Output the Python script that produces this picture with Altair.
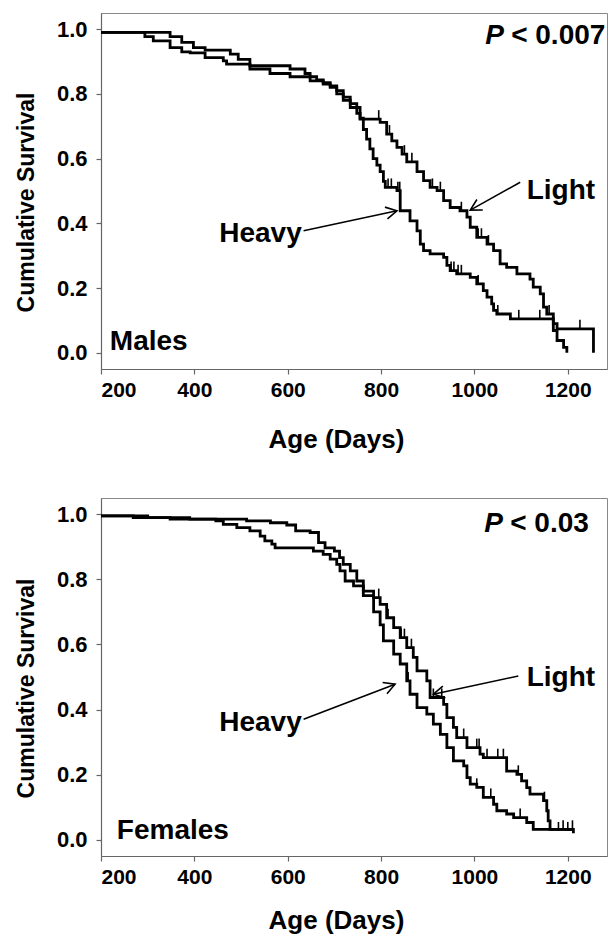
import math
import altair as alt
import pandas as pd

# ---------------- data ----------------
X_TICKS = [200, 400, 600, 800, 1000, 1200]
Y_TICKS = [0.0, 0.2, 0.4, 0.6, 0.8, 1.0]

# Males
male_light_x = [200, 348, 373, 398, 423, 477, 494, 519, 605, 637, 648, 662, 676, 691, 705, 719, 734, 748, 755, 798,
                812, 823, 834, 845, 855, 877, 891, 905, 920, 934, 948, 969, 984, 991, 1005, 1027, 1041, 1055, 1069,
                1091, 1119, 1126, 1141, 1148, 1155, 1169, 1177, 1255]
male_light_y = [.99, .977, .959, .943, .935, .923, .907, .887, .877, .863, .853, .843, .835, .825, .81, .79, .77, .74,
                .722, .712, .676, .655, .635, .614, .59, .56, .532, .511, .501, .47, .449, .439, .419, .388, .357,
                .336, .316, .275, .264, .244, .228, .203, .182, .141, .12, .09, .074, 0.0]
male_heavy_x = [200, 294, 312, 348, 373, 391, 423, 462, 469, 519, 562, 605, 648, 676, 691, 705, 719, 734, 755, 762,
                769, 776, 783, 791, 798, 805, 809, 834, 841, 862, 877, 884, 891, 905, 934, 941, 948, 962, 991, 1005,
                1019, 1027, 1037, 1041, 1048, 1077, 1169, 1177, 1191, 1198]
male_heavy_y = [.99, .977, .964, .943, .930, .927, .912, .902, .892, .877, .863, .853, .840, .830, .82, .80, .78, .758,
                .725, .69, .66, .63, .60, .58, .56, .53, .511, .501, .439, .408, .377, .336, .316, .306, .295, .27,
                .254, .244, .233, .213, .192, .172, .151, .131, .12, .105, .069, .038, .017, 0.0]
male_light_cens_x = [795, 818, 850, 866, 910, 927, 972, 1008, 1015, 1030, 1160, 1226]
male_light_cens_y = [.722, .676, .614, .59, .511, .501, .439, .357, .357, .336, .12, .074]
male_heavy_cens_x = [815, 822, 836, 840, 950, 956, 965, 972, 1008, 1050, 1095, 1140]
male_heavy_cens_y = [.511, .511, .501, .501, .254, .254, .244, .244, .213, .12, .105, .105]

# Females
female_light_x = [200, 300, 390, 512, 563, 598, 617, 648, 666, 680, 700, 711, 719, 734, 748, 762, 784, 798, 812, 827,
                  841, 855, 869, 877, 898, 905, 934, 941, 955, 962, 984, 1012, 1019, 1069, 1091, 1101, 1112, 1119,
                  1148, 1155, 1158, 1162, 1212]
female_light_y = [.995, .99, .985, .98, .974, .967, .949, .944, .913, .897, .887, .867, .846, .826, .795, .764, .744,
                  .723, .682, .652, .621, .59, .56, .519, .488, .437, .416, .375, .345, .314, .283, .263, .252, .211,
                  .201, .181, .160, .140, .120, .089, .058, .032, .02]
female_heavy_x = [200, 269, 348, 446, 462, 491, 519, 541, 551, 566, 573, 655, 676, 691, 705, 712, 723, 741, 762, 784,
                  798, 805, 827, 841, 855, 862, 877, 898, 912, 927, 941, 955, 977, 984, 991, 1005, 1019, 1041, 1048,
                  1069, 1084, 1112, 1126, 1205]
female_heavy_y = [.995, .99, .985, .98, .969, .959, .949, .933, .918, .908, .897, .887, .877, .862, .846, .826, .795,
                  .78, .75, .70, .66, .611, .570, .54, .488, .447, .406, .386, .355, .324, .283, .242, .227, .191,
                  .171, .161, .130, .109, .089, .079, .068, .053, .032, .027]
female_light_cens_x = [795, 815, 843, 850, 865, 912, 930, 977, 1005, 1010, 1027, 1050, 1062, 1094, 1150, 1190, 1210]
female_light_cens_y = [.744, .682, .621, .621, .59, .437, .437, .314, .283, .283, .252, .252, .252, .201, .120, .032, .032]
female_heavy_cens_x = [858, 1005, 1035, 1098, 1180, 1200]
female_heavy_cens_y = [.488, .161, .130, .068, .027, .027]

# Annotations (data coordinates)
male_labels = ["Heavy", "Light", "Males"]
male_label_x = [630, 1112, 219]
male_label_y = [0.367, 0.501, 0.033]
male_label_align = ["right", "left", "left"]
male_arrow_x = [634, 1098]
male_arrow_y = [0.377, 0.527]
male_arrow_tip_x = [834, 991]
male_arrow_tip_y = [0.439, 0.441]
male_p = ["P", "< 0.007"]
male_p_x = 1023
male_p_y = 0.979

female_labels = ["Heavy", "Light", "Females"]
female_label_x = [630, 1112, 234]
female_label_y = [0.36, 0.498, 0.028]
female_label_align = ["right", "left", "left"]
female_arrow_x = [634, 1094]
female_arrow_y = [0.37, 0.503]
female_arrow_tip_x = [830, 912]
female_arrow_tip_y = [0.478, 0.447]
female_p = ["P", "< 0.03"]
female_p_x = 1021
female_p_y = 0.969

# ---------------- chart ----------------
FONT = "Liberation Sans"
W = 506
X_DOMAIN = [200, 1284]
Y_DOMAIN = [-0.05, 1.05]
ANN_SIZE = 28


def panel(lx, ly, hx, hy, lcx, lcy, hcx, hcy, labels, lab_x, lab_y, lab_al,
          ax, ay, tx, ty, ptexts, px, py, height, xtitle_y):
    curves = pd.DataFrame({
        "age": lx + hx,
        "surv": ly + hy,
        "group": ["Light"] * len(lx) + ["Heavy"] * len(hx),
    })
    cens = pd.DataFrame({"age": lcx + hcx, "surv": lcy + hcy})
    texts = pd.DataFrame({"label": labels, "age": lab_x, "surv": lab_y, "align": lab_al})
    ppx = W / (X_DOMAIN[1] - X_DOMAIN[0])
    ppy = height / (Y_DOMAIN[1] - Y_DOMAIN[0])
    angs = []
    for x0, y0, x1, y1 in zip(ax, ay, tx, ty):
        a = math.degrees(math.atan2(-(y1 - y0) * ppy, (x1 - x0) * ppx)) % 360
        angs.append(a)
    arrows = pd.DataFrame({"x0": ax, "y0": ay, "x1": tx, "y1": ty, "ang": angs})
    ptab = pd.DataFrame({"t": ptexts, "age": [px, px], "surv": [py, py]})

    xs = alt.Scale(domain=X_DOMAIN, nice=False, zero=False)
    ys = alt.Scale(domain=Y_DOMAIN, nice=False, zero=False)
    xa = alt.Axis(values=X_TICKS, title="Age (Days)", grid=False, format="d",
                  titleX=235, titleY=xtitle_y, titleAlign="center", titleBaseline="alphabetic")
    ya = alt.Axis(values=Y_TICKS, title="Cumulative Survival", grid=False, format=".1f",
                  titleX=-75, titleY=height / 2 + 11, titleAlign="center", titleBaseline="middle",
                  titleAngle=270)

    lines = alt.Chart(curves).mark_line(
        interpolate="step-after", color="black", strokeWidth=2.8
    ).encode(
        x=alt.X("age:Q", scale=xs, axis=xa),
        y=alt.Y("surv:Q", scale=ys, axis=ya),
        detail="group:N",
    )
    ticks = alt.Chart(cens).mark_point(
        shape="M0,0L0,-1", size=324, filled=False, color="black", strokeWidth=1.6, opacity=1
    ).encode(x=alt.X("age:Q", scale=xs), y=alt.Y("surv:Q", scale=ys))

    def txt(al):
        return alt.Chart(texts).transform_filter(
            alt.datum.align == al
        ).mark_text(
            align=al, baseline="middle", font=FONT, fontWeight="bold", fontSize=ANN_SIZE, color="black"
        ).encode(x=alt.X("age:Q", scale=xs), y=alt.Y("surv:Q", scale=ys), text="label:N")

    shafts = alt.Chart(arrows).mark_rule(color="black", strokeWidth=1.6).encode(
        x=alt.X("x0:Q", scale=xs), y=alt.Y("y0:Q", scale=ys), x2="x1:Q", y2="y1:Q"
    )
    heads = alt.Chart(arrows).mark_point(
        shape="M-1,-0.55L0,0L-1,0.55", size=484, filled=False, color="black", strokeWidth=1.6, opacity=1
    ).encode(
        x=alt.X("x1:Q", scale=xs), y=alt.Y("y1:Q", scale=ys), angle=alt.Angle("ang:Q", scale=None)
    )
    p_it = alt.Chart(ptab).transform_filter(alt.datum.t == "P").mark_text(
        align="left", baseline="middle", font=FONT, fontWeight="bold", fontStyle="italic",
        fontSize=ANN_SIZE, color="black"
    ).encode(x=alt.X("age:Q", scale=xs), y=alt.Y("surv:Q", scale=ys), text="t:N")
    p_rest = alt.Chart(ptab).transform_filter(alt.datum.t != "P").mark_text(
        align="left", baseline="middle", font=FONT, fontWeight="bold",
        fontSize=ANN_SIZE, color="black", dx=26
    ).encode(x=alt.X("age:Q", scale=xs), y=alt.Y("surv:Q", scale=ys), text="t:N")

    return alt.layer(lines, ticks, txt("left"), txt("right"), shafts, heads, p_it, p_rest).properties(
        width=W, height=height
    )


top = panel(male_light_x, male_light_y, male_heavy_x, male_heavy_y,
            male_light_cens_x, male_light_cens_y, male_heavy_cens_x, male_heavy_cens_y,
            male_labels, male_label_x, male_label_y, male_label_align,
            male_arrow_x, male_arrow_y, male_arrow_tip_x, male_arrow_tip_y,
            male_p, male_p_x, male_p_y, 356, 78)
bottom = panel(female_light_x, female_light_y, female_heavy_x, female_heavy_y,
               female_light_cens_x, female_light_cens_y, female_heavy_cens_x, female_heavy_cens_y,
               female_labels, female_label_x, female_label_y, female_label_align,
               female_arrow_x, female_arrow_y, female_arrow_tip_x, female_arrow_tip_y,
               female_p, female_p_x, female_p_y, 358, 72)

chart = alt.vconcat(top, bottom, spacing=129, bounds="flush").properties(
    padding={"left": 6, "top": 4, "right": 0, "bottom": 0}
).configure_view(
    stroke="#888888", strokeWidth=1
).configure_axis(
    labelFont=FONT, labelFontWeight="bold", labelColor="black",
    titleFont=FONT, titleFontWeight="bold", titleColor="black",
    domainColor="#666666", tickColor="#666666", tickSize=5, domainWidth=1.2, tickWidth=1.2,
).configure_axisX(
    labelPadding=5, labelFontSize=21, titleFontSize=26
).configure_axisY(
    labelPadding=9, labelFontSize=22, titleFontSize=23
)

chart.save("out.html", embed_options={"renderer": "svg", "actions": False})
